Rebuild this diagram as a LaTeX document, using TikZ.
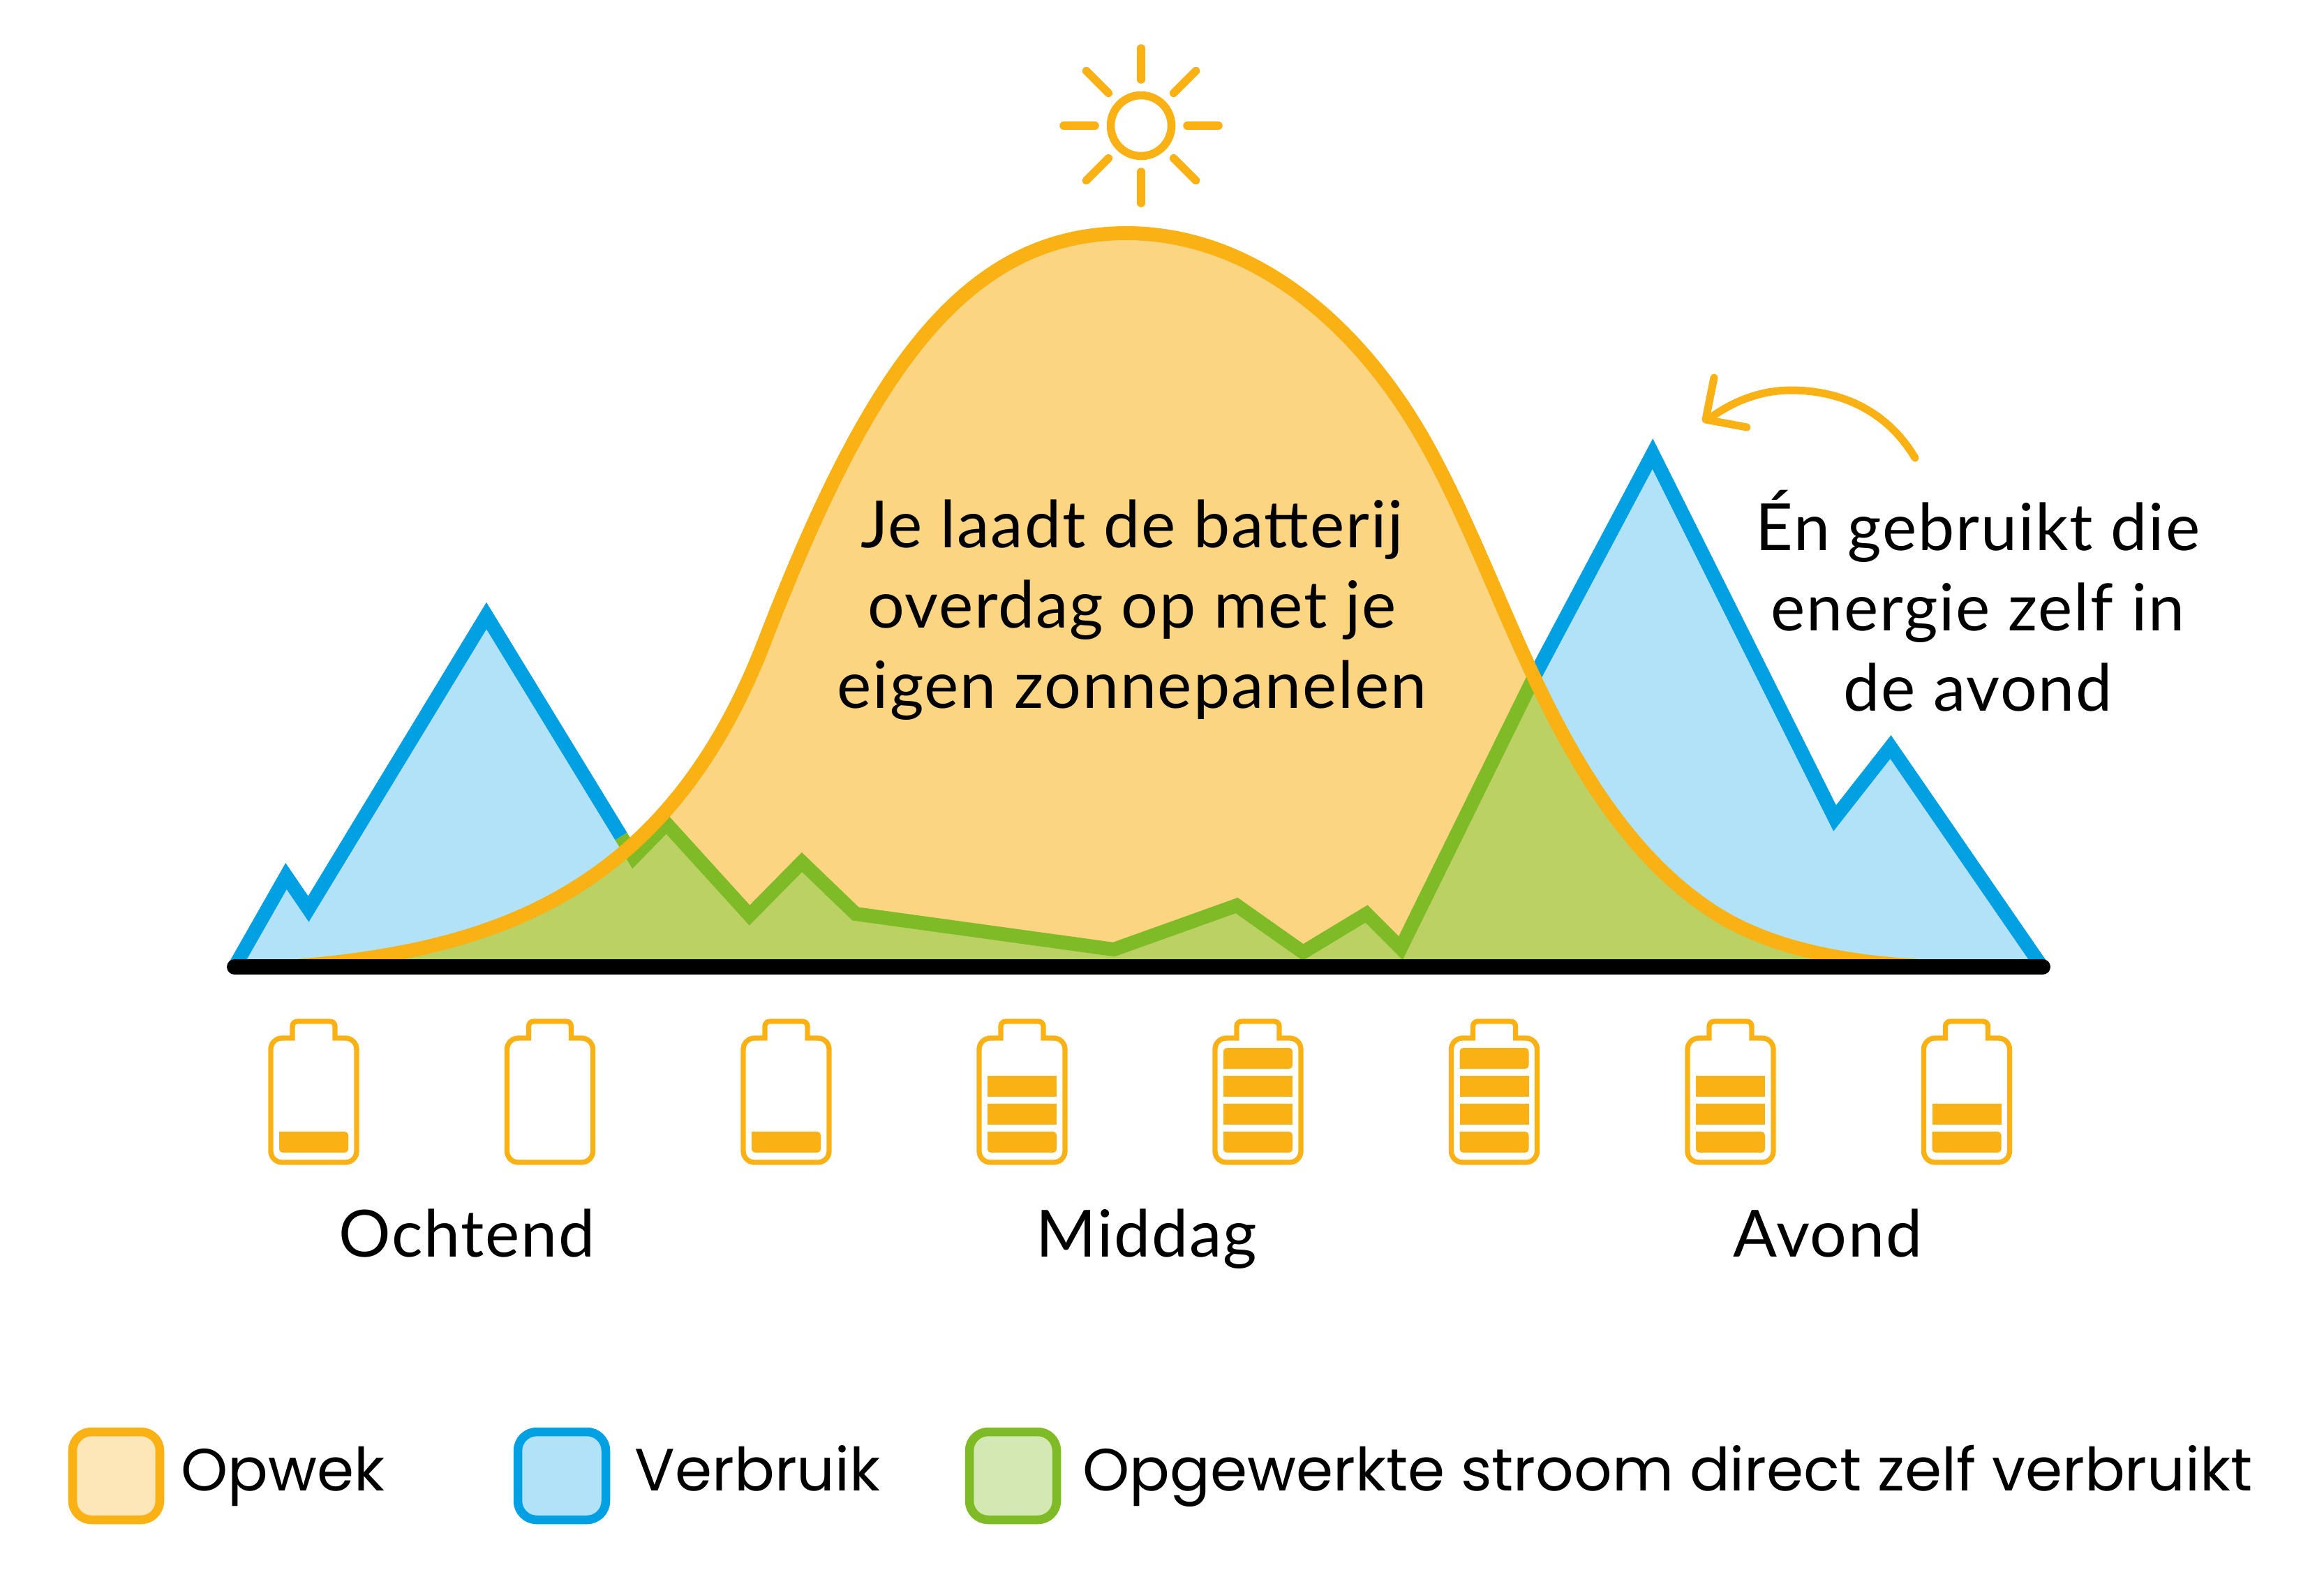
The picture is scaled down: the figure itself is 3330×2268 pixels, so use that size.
\documentclass[tikz,border=0pt]{standalone}
\usepackage{fontspec}
\setmainfont{Lato}[LetterSpace=2]
\newfontfamily\legendfont{Poppins}
\usetikzlibrary{positioning}
\definecolor{SunOrange}{HTML}{FAB113}
\definecolor{SunFill}{HTML}{FCD583}
\definecolor{SunPale}{HTML}{FDE6B8}
\definecolor{UseBlue}{HTML}{00A0E3}
\definecolor{UseFill}{HTML}{B2E2F8}
\definecolor{SelfGreen}{HTML}{7FBA27}
\definecolor{SelfFill}{HTML}{BBD163}
\definecolor{SelfPale}{HTML}{D3E8B2}

\tikzset{
    curveline/.style={line width=0.2cm, miter limit=20},
    batline/.style={draw=SunOrange, line width=0.073cm},
    batbar/.style={fill=SunOrange},
    sunline/.style={draw=SunOrange, line width=0.115cm, line cap=round},
    legendbox/.style={line width=0.125cm, rounded corners=0.27cm},
    bodytext/.style={font=\fontsize{26.5}{32.7}\selectfont, align=center, text=black},
    legendtext/.style={font=\legendfont\fontsize{24.3}{28}\selectfont, anchor=base west, inner sep=0pt}
}

\begin{document}
\begin{tikzpicture}[x=0.01cm, y=-0.01cm]

    % --- Parameters ---
    \def\baseY{1385}  % Height of the time axis
    \def\batW{123}    % Battery body width
    % Solar curve, used for the fill, the clip and the outline
    \def\sunCurve{(400,1386) .. controls (690,1365) and (951,1292) .. (1095,920)
        .. controls (1239,548) and (1374,334) .. (1614,334)
        .. controls (1790,334) and (1950,459) .. (2053,653)
        .. controls (2107,754) and (2149,866) .. (2198,970)
        .. controls (2259,1099) and (2339,1234) .. (2461,1310)
        .. controls (2555,1368) and (2680,1383) .. (2800,1386)}
    \def\useShape{(336,\baseY) -- (410,1255) -- (442,1302) -- (697,882)
        -- (908,1228) -- (955,1180) -- (1074,1311) -- (1149,1235) -- (1226,1309)
        -- (1596,1360) -- (1772,1297) -- (1867,1364) -- (1958,1309) -- (2007,1358)
        -- (2368,650) -- (2629,1172) -- (2709,1070) -- (2926,\baseY) -- cycle}

    \useasboundingbox (0,0) rectangle (3330,2268);

    % --- 1. Consumption (blue) ---
    \fill[UseFill] \useShape;
    \draw[UseBlue, curveline] (336,\baseY) -- (410,1255) -- (442,1302) -- (697,882) -- (890,1198);
    \draw[UseBlue, curveline] (2198,970) -- (2368,650) -- (2629,1172) -- (2709,1070) -- (2926,\baseY);

    % --- 2. Generation (orange fill) ---
    \fill[SunFill] \sunCurve -- cycle;

    % --- 3. Self consumption: overlap of both shapes ---
    \begin{scope}
        \clip \sunCurve -- cycle;
        \fill[SelfFill] \useShape;
    \end{scope}
    \draw[SelfGreen, curveline] (890,1198) -- (908,1228) -- (955,1180) -- (1074,1311)
        -- (1149,1235) -- (1226,1309) -- (1596,1360) -- (1772,1297) -- (1867,1364)
        -- (1958,1309) -- (2007,1358) -- (2198,970);

    % --- 4. Outline and axis ---
    \draw[SunOrange, line width=0.2cm] \sunCurve;
    \draw[black, line width=0.22cm, line cap=round] (336,\baseY) -- (2927,\baseY);

    % --- 5. Sun ---
    \draw[sunline] (1635,180) circle (43.5);
    \foreach \a in {0,45,...,315} {
        \draw[sunline] (1635,180) ++(\a:66) -- ++(\a:45);
    }

    % --- 6. Batteries ---
    \foreach \bx/\lvl in {384/1, 722.5/0, 1061/1, 1399/3, 1737/4, 2075.5/4, 2414/3, 2752.5/2} {
        \begin{scope}[shift={(\bx,0)}]
            \draw[batline] (35,1487) [rounded corners=0.07cm] -- (35,1463) -- (96,1463) [sharp corners]
                -- (96,1487) [rounded corners=0.16cm] -- (4+\batW,1487) -- (4+\batW,1665)
                -- (4,1665) -- (4,1487) [sharp corners] -- cycle;
            \foreach \b/\top in {1/1621, 2/1581, 3/1541, 4/1501} {
                \ifnum\b>\lvl\else
                    \ifnum\b=1
                        \fill[batbar, rounded corners=0.05cm] (16,\top) -- (16,\top+30) -- (115,\top+30) -- (115,\top) [sharp corners] -- cycle;
                    \else\ifnum\b=4
                        \fill[batbar, rounded corners=0.05cm] (16,\top+30) -- (16,\top) -- (115,\top) -- (115,\top+30) [sharp corners] -- cycle;
                    \else
                        \fill[batbar] (16,\top) rectangle (115,\top+30);
                    \fi\fi
                \fi
            }
        \end{scope}
    }

    % --- 7. Curved arrow ---
    \draw[SunOrange, line width=0.11cm, line cap=round, line join=round]
        (2744,656) .. controls (2705,590) and (2640,559) .. (2566,559)
        .. controls (2525,559) and (2485,573) .. (2447,601);
    \draw[SunOrange, line width=0.11cm, line cap=round, line join=round]
        (2456,541) -- (2444,601) -- (2503,612);

    % --- 8. Texts ---
    \node[bodytext] (loadtext) at (1622,874) {Je laadt de batterij\\overdag op met je\\eigen zonnepanelen};
    \node[bodytext] (usetext) at (2834,861) {Én gebruikt die\\energie zelf in\\de avond};
    \node[bodytext, anchor=base] (morning) at (669,1800) {Ochtend};
    \node[bodytext, anchor=base] (noon) at (1643,1800) {Middag};
    \node[bodytext, anchor=base] (evening) at (2619,1800) {Avond};

    % --- 9. Legend ---
    \draw[legendbox, draw=SunOrange, fill=SunPale] (104,2051) rectangle (229,2177);
    \draw[legendbox, draw=UseBlue, fill=UseFill] (742,2051) rectangle (868,2177);
    \draw[legendbox, draw=SelfGreen, fill=SelfPale] (1389,2051) rectangle (1514,2177);
    \node[legendtext] (legsun) at (259,2135) {Opwek};
    \node[legendtext] (leguse) at (909,2135) {Verbruik};
    \node[legendtext] (legself) at (1551,2135) {Opgewerkte stroom direct zelf verbruikt};

\end{tikzpicture}
\end{document}
